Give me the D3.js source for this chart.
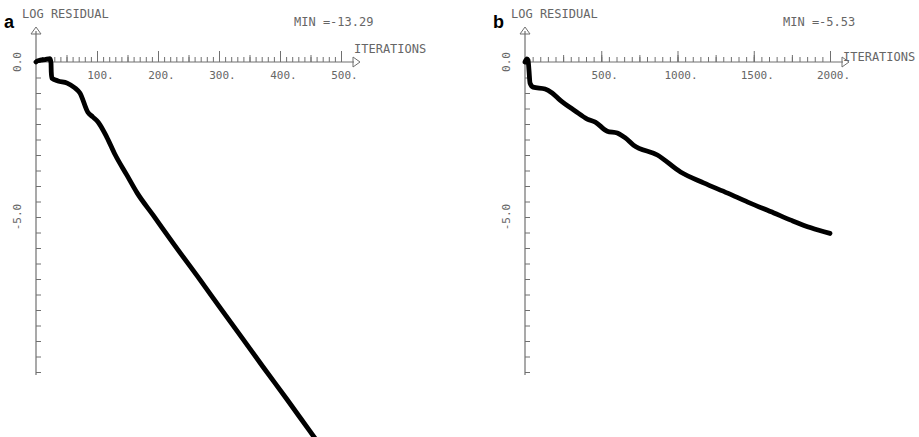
<!DOCTYPE html>
<html>
<head>
<meta charset="utf-8">
<script src="https://cdn.jsdelivr.net/npm/d3@7/dist/d3.min.js"></script>
<style>
  html, body { margin: 0; padding: 0; background: #fff; }
  svg { display: block; }
  text { font-family: "DejaVu Sans Mono", "Liberation Mono", monospace; fill: #666; }
  .panel-tag { font-family: "Liberation Sans", Arial, sans-serif; font-weight: bold; fill: #000; }
</style>
</head>
<body>
<svg id="chart" width="919" height="437"></svg>
<script>
// Convergence history, run a: iterations vs log10 of residual
const iterA  = [0, 2, 7, 15, 23, 24.6, 25, 26, 36, 51, 64, 72, 85, 93, 102, 116, 130, 149, 166, 192, 225, 269, 302, 339, 372, 411, 449, 500];
const residA = [0, 0.03, 0.06, 0.08, 0.11, -0.03, -0.32, -0.52, -0.61, -0.68, -0.84, -1.0, -1.62, -1.77, -1.94, -2.42, -3.0, -3.65, -4.23, -4.94, -5.85, -7.03, -7.93, -8.93, -9.83, -10.87, -11.91, -13.29];

// Convergence history, run b
const iterB  = [0, 13, 20, 26, 33, 53, 132, 178, 230, 329, 408, 461, 539, 605, 658, 711, 868, 1020, 1171, 1329, 1461, 1632, 1743, 1875, 2000];
const residB = [0, 0.1, 0.06, -0.26, -0.68, -0.81, -0.87, -1.0, -1.23, -1.58, -1.84, -1.94, -2.23, -2.29, -2.45, -2.68, -3.0, -3.55, -3.9, -4.23, -4.52, -4.87, -5.1, -5.35, -5.53];

// Axis ranges and labels
const xMaxA = 500, xMinorA = 10, xMidA = 50, xMajorA = 100;
const xMaxB = 2000, xMinorB = 50, xMidB = 250, xMajorB = 500;
const yTickStep = 0.5, yBottom = -10;
const yLabels = [0, -5];
const minLabelA = "MIN =-13.29";
const minLabelB = "MIN =-5.53";

const svg = d3.select("#chart");
const axisColor = "#707070";

function panel(opt) {
  const g = svg.append("g");
  const x = d3.scaleLinear().domain([0, opt.xMax]).range([opt.x0, opt.x0 + 305]);
  const y = d3.scaleLinear().domain([0, yBottom]).range([62, 372]);

  // y axis line with ticks pointing right
  const yAxis = d3.axisRight(y)
    .tickValues(d3.range(0, yBottom - 0.01, -yTickStep))
    .tickSize(5).tickSizeOuter(0).tickFormat("");
  const ya = g.append("g").attr("transform", `translate(${opt.x0},0)`).call(yAxis);
  ya.select(".domain").remove();
  ya.selectAll("line").attr("stroke", axisColor).attr("stroke-width", 1);
  g.append("line").attr("x1", opt.x0).attr("x2", opt.x0).attr("y1", 31).attr("y2", y(yBottom) + 3)
    .attr("stroke", axisColor).attr("stroke-width", 1.2);
  // open arrowhead at top of y axis
  g.append("path")
    .attr("d", `M${opt.x0 - 5},${34} L${opt.x0},${27} L${opt.x0 + 5},${34} Z`)
    .attr("fill", "none").attr("stroke", axisColor).attr("stroke-width", 1);

  // x axis: minor, mid and major ticks pointing up
  const xEnd = x(opt.xMax);
  g.append("line").attr("x1", opt.x0).attr("x2", xEnd + 13).attr("y1", 62).attr("y2", 62)
    .attr("stroke", axisColor).attr("stroke-width", 1.2);
  [[opt.xMinor, 5], [opt.xMid, 7], [opt.xMajor, 11]].forEach(([step, len]) => {
    const ax = d3.axisTop(x).tickValues(d3.range(step, opt.xMax + 1, step))
      .tickSize(len).tickSizeOuter(0).tickFormat("");
    const s = g.append("g").attr("transform", "translate(0,62)").call(ax);
    s.select(".domain").remove();
    s.selectAll("line").attr("stroke", axisColor).attr("stroke-width", 1);
  });
  // open arrowhead at end of x axis
  g.append("path")
    .attr("d", `M${xEnd + 12},${57} L${xEnd + 19},${62} L${xEnd + 12},${67} Z`)
    .attr("fill", "none").attr("stroke", axisColor).attr("stroke-width", 1);

  // x tick labels below the axis
  const lab = d3.axisBottom(x).tickValues(d3.range(opt.xMajor, opt.xMax + 1, opt.xMajor))
    .tickSize(0).tickPadding(9).tickFormat(d => d + ".");
  const la = g.append("g").attr("transform", "translate(3,62)").call(lab);
  la.select(".domain").remove();
  la.selectAll("text").style("font-size", "11px").attr("fill", "#666");

  // y tick labels, rotated
  yLabels.forEach(v => {
    g.append("text")
      .attr("transform", `translate(${opt.x0 - 19},${y(v)}) rotate(-90)`)
      .attr("text-anchor", "middle").attr("dy", "0.35em")
      .style("font-size", "11px")
      .text(v === 0 ? "0.0" : v.toFixed(1));
  });

  // titles
  g.append("text").attr("class", "panel-tag").attr("x", opt.x0 - 32).attr("y", 28)
    .style("font-size", "18px").text(opt.tag);
  g.append("text").attr("x", opt.x0 - 14).attr("y", 18).style("font-size", "12px").text("LOG RESIDUAL");
  g.append("text").attr("x", opt.x0 + 258).attr("y", 26).style("font-size", "12px").text(opt.minLabel);
  g.append("text").attr("x", xEnd + 13).attr("y", opt.iterY).style("font-size", "12px").text("ITERATIONS");

  // residual curve
  const line = d3.line().curve(d3.curveMonotoneX)
    .x((d, i) => x(opt.iter[i])).y(d => y(d));
  g.append("path").datum(opt.resid).attr("d", line)
    .attr("fill", "none").attr("stroke", "#000").attr("stroke-width", 4.8)
    .attr("stroke-linejoin", "round").attr("stroke-linecap", "round");
}

panel({ tag: "a", x0: 36, xMax: xMaxA, xMinor: xMinorA, xMid: xMidA, xMajor: xMajorA,
        iter: iterA, resid: residA, minLabel: minLabelA, iterY: 53 });
panel({ tag: "b", x0: 525, xMax: xMaxB, xMinor: xMinorB, xMid: xMidB, xMajor: xMajorB,
        iter: iterB, resid: residB, minLabel: minLabelB, iterY: 61 });
</script>
</body>
</html>
